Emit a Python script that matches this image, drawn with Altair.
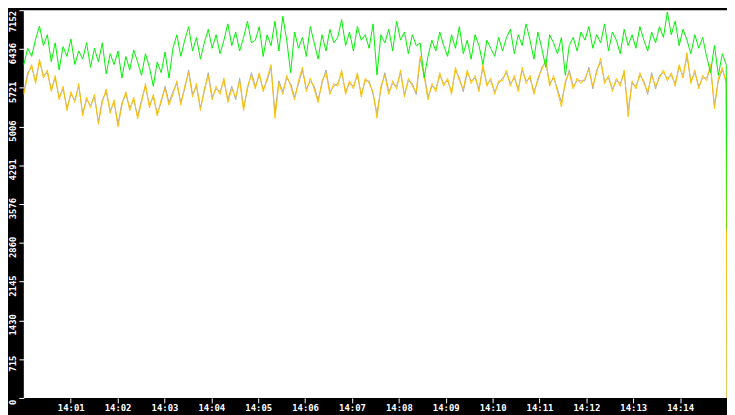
import altair as alt
import pandas as pd

START = pd.Timestamp("2024-01-01 14:00:00")
END = pd.Timestamp("2024-01-01 14:15:00")

# green series (read every ~5 s); the last value is the sample at the very end
green_vals = [
    6150, 6450, 6300, 6620, 6860, 6500, 6700, 6200, 6550, 6050, 6480, 6300, 6620, 6150, 6400, 6250, 6550,
    6100, 6450, 6200, 6550, 5980, 6350, 6150, 6400, 5900, 6300, 6050, 6420, 6200, 5950, 6350, 6100, 5750, 6200, 6000, 6380, 5900,
    6450, 6700, 6300, 6600, 6850, 6400, 6650, 6250, 6550, 6800, 6450, 6700, 6350, 6600, 6900, 6500, 6750, 6400, 6650, 6950, 6550,
    6600, 6850, 6300, 6700, 6500, 6950, 6400, 7040, 6600, 6000, 6750, 6450, 6650, 6300, 6850, 6550, 6250, 6700, 6400, 6800, 6550,
    6650, 6980, 6500, 6750, 6400, 6850, 6600, 6700, 6450, 6900, 5960, 6700, 6550, 6800, 6400, 6950, 6600, 6750, 6350, 6700, 6500,
    6550, 5900, 6300, 6600, 6400, 6750, 6500, 6300, 6700, 6450, 6850, 6350, 6600, 6250, 6700, 6500, 6150, 6600, 6450, 6300, 6650,
    6400, 6650, 6800, 6350, 6700, 6500, 6900, 6600, 6250, 6750, 6450, 6100, 6700, 6550, 6350, 6650, 5950, 6500, 6650, 6400, 6750,
    6600, 6850, 6450, 6700, 6550, 6900, 6400, 6750, 6600, 6350, 6800, 6500, 6700, 6450, 6850, 6600, 6400, 6750, 6550, 6850, 6650,
    7120, 6700, 6950, 6500, 6800, 6600, 6350, 6700, 6450, 6650, 6300, 6000, 6500, 5950, 6350, 6150,
    3100,
]

# yellow series
yellow_vals = [
    5600, 5950, 6150, 5800, 6250, 5900, 6050, 5650, 5950,
    5500, 5750, 5300, 5650, 5450, 5800, 5200, 5550,
    5350, 5600, 5050, 5450, 5700, 5250, 5500, 5000, 5400, 5650, 5300, 5550, 5150, 5450, 5800, 5350, 5600, 5200, 5500, 5700, 5400,
    5600, 5850, 5400, 5750, 6000, 5550, 5800, 5300, 5700, 5950, 5500, 5750, 5600, 5900, 5450, 5700, 5550, 5850, 5300, 5750, 5950,
    5700, 6000, 5650, 5900, 6150, 5160, 5800, 5600, 5950, 5750, 5500, 5850, 6100, 5650, 5900, 5700, 5450, 5850, 6000, 5600, 5800,
    5750, 6050, 5600, 5850, 5700, 6000, 5550, 5900, 5800, 5650, 5160, 5750, 5950, 5600, 5850, 5700, 6050, 5550, 5900, 5750, 5650,
    6300, 5950, 5500, 5800, 5650, 6000, 5750, 5900, 5600, 6100, 5850, 5700, 6050, 5800, 5950, 5650, 6150, 5750, 5900, 5600, 5850,
    5850, 6050, 5750, 5950, 5650, 6100, 5800, 5950, 5600, 5900, 6050, 6250, 5750, 5950, 5650, 5370, 5850, 6000, 5700, 5900, 5800,
    5900, 6050, 5750, 6000, 6270, 5800, 5950, 5650, 5900, 5750, 6050, 5190, 5850, 5700, 6000, 5800, 5650, 5950, 5750, 5900, 6050,
    5850, 6000, 5750, 6150, 5900, 6370, 5800, 6050, 5700, 5950, 5850, 6150, 5340, 5900, 6100, 5800,
    0,
]

# gray series (runs close to the yellow one, mostly hidden behind it)
gray_vals = [
    5650, 6000, 6100, 5850, 6200, 5950, 6000, 5700, 5900,
    5550, 5700, 5350, 5600, 5500, 5750, 5250, 5500,
    5400, 5550, 5100, 5500, 5650, 5300, 5450, 5050, 5450, 5600, 5350, 5500, 5200, 5500, 5750, 5400, 5550, 5250, 5450, 5750, 5450,
    5650, 5800, 5450, 5700, 6050, 5600, 5750, 5350, 5650, 6000, 5550, 5700, 5650, 5850, 5500, 5750, 5500, 5900, 5350, 5700, 6000,
    5750, 5950, 5700, 5850, 6100, 5250, 5850, 5650, 5900, 5800, 5550, 5800, 6050, 5700, 5850, 5750, 5500, 5800, 6050, 5650, 5750,
    5800, 6000, 5650, 5800, 5750, 5950, 5600, 5850, 5850, 5600, 5250, 5700, 6000, 5650, 5800, 5750, 6000, 5600, 5850, 5800, 5600,
    6250, 6000, 5550, 5750, 5700, 5950, 5800, 5850, 5650, 6050, 5900, 5650, 6000, 5850, 5900, 5700, 6100, 5800, 5850, 5650, 5800,
    5900, 6000, 5800, 5900, 5700, 6050, 5850, 5900, 5650, 5850, 6100, 6200, 5800, 5900, 5700, 5450, 5800, 6050, 5750, 5850, 5850,
    5850, 6100, 5700, 6050, 6200, 5850, 5900, 5700, 5850, 5800, 6000, 5300, 5800, 5750, 5950, 5850, 5600, 6000, 5700, 5950, 6000,
    5900, 5950, 5800, 6100, 5950, 6300, 5850, 6000, 5750, 5900, 5900, 6100, 5400, 5850, 6050, 5850,
    0,
]

y_ticks = [0, 715, 1430, 2145, 2860, 3576, 4291, 5006, 5721, 6436, 7152]
x_tick_minutes = list(range(1, 15))

GREEN = "#00f000"
YELLOW = "#ffc000"
GRAY = "#a8a8a8"


def frame(vals):
    # regular samples up to one second before the end, final sample at the end
    n = len(vals)
    last_regular = END - pd.Timedelta(seconds=1)
    step = (last_regular - START) / (n - 2)
    times = [START + i * step for i in range(n - 1)] + [END]
    return pd.DataFrame({"t": times, "v": vals})


def dt(m):
    return alt.DateTime(year=2024, month=1, date=1, hours=14, minutes=m)


x_enc = alt.X(
    "t:T",
    scale=alt.Scale(domain=[dt(0), dt(15)]),
    axis=alt.Axis(
        values=[dt(m) for m in x_tick_minutes],
        format="%H:%M",
        title=None,
        tickSize=5,
        labelPadding=1,
        minExtent=15,
        maxExtent=15,
        labelFlush=False,
    ),
)
y_enc = alt.Y(
    "v:Q",
    scale=alt.Scale(domain=[0, 7152], nice=False),
    axis=alt.Axis(
        values=y_ticks,
        format="d",
        title=None,
        labelAngle=270,
        labelAlign="center",
        labelBaseline="bottom",
        labelOffset={"condition": {"test": "datum.value > 7000", "value": 11}, "value": 4},
        tickSize=5,
        labelPadding=1,
        minExtent=16,
        maxExtent=16,
        labelOverlap=False,
        labelFlush=False,
    ),
)


def line(vals, color):
    return alt.Chart(frame(vals)).mark_line(color=color, strokeWidth=1).encode(x=x_enc, y=y_enc)


chart = (
    alt.layer(line(gray_vals, GRAY), line(yellow_vals, YELLOW), line(green_vals, GREEN))
    .properties(
        width=711,
        height=392,
        background="black",
        padding={"left": 16, "top": 0, "right": 0, "bottom": 15},
        autosize=alt.AutoSizeParams(type="none"),
    )
    .configure_view(fill="white", strokeWidth=0)
    .configure_axis(
        grid=False,
        domain=False,
        tickColor="white",
        labelColor="white",
        labelFont="DejaVu Sans Mono",
        labelFontSize=9,
        labelFontWeight="bold",
    )
)

chart.save("out.html", embed_options={"renderer": "svg", "actions": False})
